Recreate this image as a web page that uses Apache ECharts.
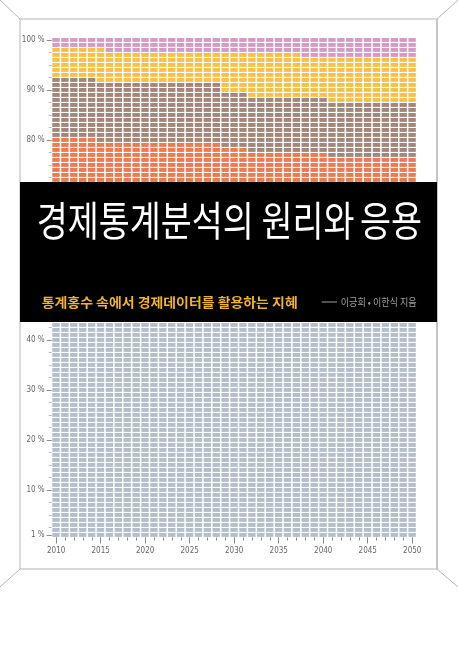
<!DOCTYPE html>
<html>
<head>
<meta charset="utf-8">
<script src="https://cdn.jsdelivr.net/npm/echarts@6/dist/echarts.min.js"></script>
<style>
  html, body { margin: 0; padding: 0; background: #fff; }
  #chart { width: 458px; height: 648px; }
</style>
</head>
<body>
<div id="chart"></div>
<script>
'use strict';

// ---- data: top row (in %) reached by each layer, per year ----
const years = [2010, 2011, 2012, 2013, 2014, 2015, 2016, 2017, 2018, 2019, 2020, 2021, 2022, 2023,
  2024, 2025, 2026, 2027, 2028, 2029, 2030, 2031, 2032, 2033, 2034, 2035, 2036, 2037, 2038, 2039,
  2040, 2041, 2042, 2043, 2044, 2045, 2046, 2047, 2048, 2049, 2050];
// gray top is hidden under the title band, estimated
const grayTop = [60, 60, 60, 60, 60, 60, 60, 60, 60, 60, 60, 60, 60, 60, 60, 60, 60, 60, 60, 60, 60,
  60, 60, 60, 60, 60, 60, 60, 60, 60, 60, 60, 60, 60, 60, 60, 60, 60, 60, 60, 60];
const orangeTop = [80, 80, 80, 80, 80, 79, 79, 79, 79, 79, 79, 79, 79, 79, 79, 79, 79, 79, 79, 78, 78,
  78, 77, 77, 77, 77, 77, 77, 77, 77, 77, 76, 76, 76, 76, 76, 76, 76, 76, 76, 76];
const brownTop = [92, 92, 92, 92, 92, 91, 91, 91, 91, 91, 91, 91, 91, 91, 91, 91, 91, 91, 91, 89, 89,
  89, 88, 88, 88, 88, 88, 88, 88, 88, 88, 87, 87, 87, 87, 87, 87, 87, 87, 87, 87];
const yellowTop = [98, 98, 98, 98, 98, 98, 97, 97, 97, 97, 97, 97, 97, 97, 97, 97, 97, 97, 97, 97, 97,
  97, 97, 97, 97, 97, 97, 97, 96, 96, 96, 96, 96, 96, 96, 96, 96, 96, 96, 96, 96];
const pinkTop = [100, 100, 100, 100, 100, 100, 100, 100, 100, 100, 100, 100, 100, 100, 100, 100, 100,
  100, 100, 100, 100, 100, 100, 100, 100, 100, 100, 100, 100, 100, 100, 100, 100, 100, 100, 100, 100,
  100, 100, 100, 100];

// ---- tick labels ----
const xLabelYears = [2010, 2015, 2020, 2025, 2030, 2035, 2040, 2045, 2050];
const yLabelValues = [1, 10, 20, 30, 40, 50, 60, 70, 80, 90, 100];
const yMinorTicks = [2.5, 5, 7.5, 12.5, 15, 17.5, 22.5, 25, 27.5, 32.5, 35, 37.5, 42.5, 45, 47.5,
  52.5, 55, 57.5, 62.5, 65, 67.5, 72.5, 75, 77.5, 82.5, 85, 87.5, 92.5, 95, 97.5];

// ---- text ----
const titleWords = ['경제통계분석의', '원리와', '응용'];
const subtitle = '통계홍수 속에서 경제데이터를 활용하는 지혜';
const authors = '이긍희 • 이한식 지음';

// ---- palette ----
const C = { gray: '#b4bfcb', orange: '#ee7a52', brown: '#a3877a', yellow: '#f6c146', pink: '#d59bc4',
  tick: '#8a8a8a', label: '#666', frame: '#b4b4b4', sub: '#f0b424', author: '#a0a0a0' };

const layers = [
  { name: 'gray', color: C.gray, top: grayTop },
  { name: 'orange', color: C.orange, top: orangeTop },
  { name: 'brown', color: C.brown, top: brownTop },
  { name: 'yellow', color: C.yellow, top: yellowTop },
  { name: 'pink', color: C.pink, top: pinkTop },
];

const narrow = "'Liberation Sans Narrow','DejaVu Sans Condensed',sans-serif";
const kr = "'Noto Sans CJK KR',sans-serif";

// measure a string so it can be squeezed to a target width
const ctx = document.createElement('canvas').getContext('2d');
const textW = (s, font) => { ctx.font = font; return ctx.measureText(s).width; };

function cells(li) {
  const out = [];
  years.forEach((y, i) => {
    const lo = li === 0 ? 0 : layers[li - 1].top[i];
    for (let r = lo + 1; r <= layers[li].top[i]; r++) out.push([y, r]);
  });
  return out;
}

const renderCell = color => (params, api) => {
  const p = api.coord([api.value(0) - 0.5, api.value(1) + 0.5]);
  const s = api.size([1, 1]);
  return { type: 'rect', shape: { x: p[0] + 0.6, y: p[1] + 0.5, width: s[0] - 1.5, height: s[1] - 1.1 },
    style: { fill: color } };
};

// ---- title layout ----
const titleFont = 'normal 41px ' + kr;
const tScale = 217 / textW(titleWords[0], titleFont);
const subFont = 'bold 13px ' + kr;
const sScale = 256 / textW(subtitle, subFont);
const aFont = 'normal 10px ' + kr;
const aScale = 76 / textW(authors, aFont);

const line = (x1, y1, x2, y2, w, col) => ({ type: 'line', z: 50, silent: true,
  shape: { x1, y1, x2, y2 }, style: { stroke: col || C.frame, lineWidth: w || 1 } });

const chart = echarts.init(document.getElementById('chart'), null, { renderer: 'canvas' });
chart.setOption({
  animation: false,
  backgroundColor: '#fff',
  grid: { left: 51.7, right: 41.3, top: 37.5, bottom: 110.5 },
  xAxis: [
    { type: 'value', min: 2009.5, max: 2050.5, position: 'bottom',
      axisLine: { show: false }, splitLine: { show: false },
      axisTick: { customValues: xLabelYears, length: 6, lineStyle: { color: C.tick } },
      axisLabel: { customValues: xLabelYears, margin: 9, fontSize: 8, color: C.label, fontFamily: narrow,
        formatter: v => String(v) } },
    { type: 'value', min: 2009.5, max: 2050.5, position: 'bottom',
      axisLine: { show: false }, splitLine: { show: false }, axisLabel: { show: false },
      axisTick: { customValues: years, length: 3, lineStyle: { color: C.tick } } },
  ],
  yAxis: [
    { type: 'value', min: 0.5, max: 100.5, position: 'left',
      axisLine: { show: false }, splitLine: { show: false },
      axisTick: { customValues: yLabelValues, length: 5, lineStyle: { color: C.tick } },
      axisLabel: { customValues: yLabelValues, margin: 7, fontSize: 8, color: C.label, fontFamily: narrow,
        formatter: v => v + ' %' } },
    { type: 'value', min: 0.5, max: 100.5, position: 'left',
      axisLine: { show: false }, splitLine: { show: false }, axisLabel: { show: false },
      axisTick: { customValues: yMinorTicks, length: 3, lineStyle: { color: '#bbb' } } },
  ],
  series: layers.map((l, i) => ({
    name: l.name, type: 'custom', silent: true, xAxisIndex: 0, yAxisIndex: 0,
    encode: { x: 0, y: 1 }, renderItem: renderCell(l.color), data: cells(i),
  })),
  graphic: { elements: [
    // frame + perspective corners
    line(20, 19, 437, 19), line(20, 19, 20, 569), line(20, 569, 437, 569), line(437, 19, 437, 569, 2, '#c4c4c4'),
    line(0, 0, 20, 19), line(458, 0, 437, 19), line(20, 569, 0, 587), line(437, 569, 458, 587),
    // title band
    { type: 'rect', z: 100, silent: true, shape: { x: 20, y: 182, width: 417, height: 140 }, style: { fill: '#000' } },
    { type: 'text', z: 101, silent: true, x: 36.7, y: 220, scaleX: tScale,
      style: { text: titleWords[0], font: titleFont, fill: '#fff', textVerticalAlign: 'middle' } },
    { type: 'text', z: 101, silent: true, x: 308, y: 220, scaleX: tScale,
      style: { text: titleWords[1], font: titleFont, fill: '#fff', textAlign: 'center', textVerticalAlign: 'middle' } },
    { type: 'text', z: 101, silent: true, x: 391, y: 220, scaleX: tScale,
      style: { text: titleWords[2], font: titleFont, fill: '#fff', textAlign: 'center', textVerticalAlign: 'middle' } },
    { type: 'text', z: 101, silent: true, x: 41.7, y: 302, scaleX: sScale,
      style: { text: subtitle, font: subFont, fill: C.sub, textVerticalAlign: 'middle' } },
    { type: 'line', z: 101, silent: true, shape: { x1: 321.7, y1: 302, x2: 337, y2: 302 },
      style: { stroke: C.author, lineWidth: 1 } },
    { type: 'text', z: 101, silent: true, x: 340.7, y: 302, scaleX: aScale,
      style: { text: authors, font: aFont, fill: C.author, textVerticalAlign: 'middle' } },
  ] },
});
</script>
</body>
</html>
